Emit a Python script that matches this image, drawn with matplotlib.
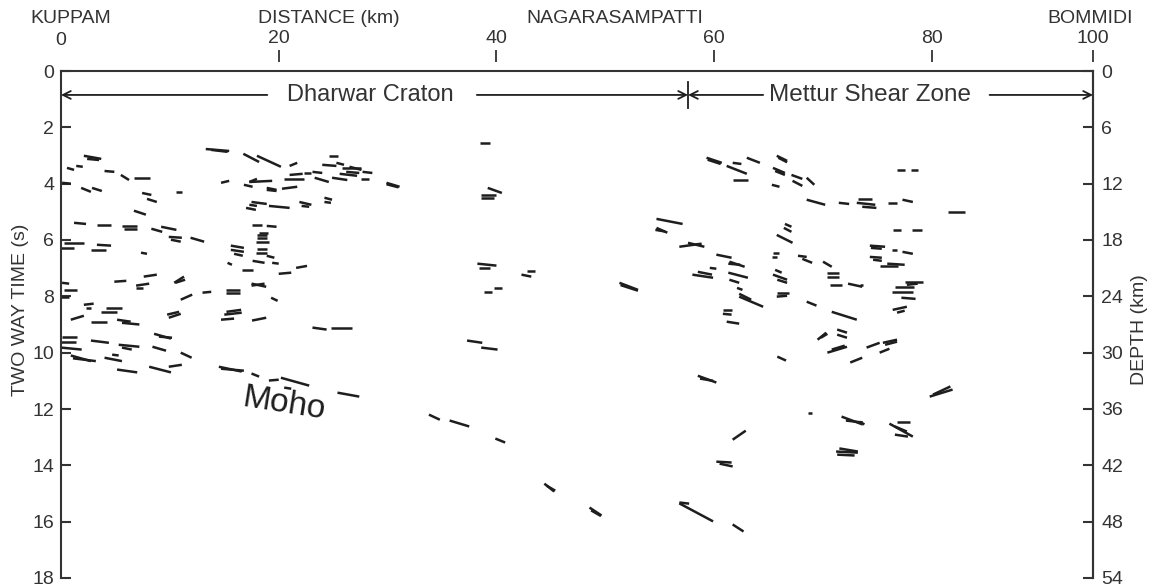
import matplotlib
matplotlib.use("Agg")
import matplotlib.pyplot as plt
import matplotlib.transforms as mtransforms
from matplotlib.collections import LineCollection

plt.rcParams['font.family'] = ['Liberation Sans', 'DejaVu Sans']

INK = '#333333'
LINE = '#1e1e1e'
FS = 14

# distance axis along the profile (km); the frame ends at the point printed "100"
x_end = 94.8
distance_ticks = [20, 40, 60, 80, x_end]
distance_labels = ["20", "40", "60", "80", "100"]

# two way time (s) on the left, depth (km) on the right
twt_ticks = [0, 2, 4, 6, 8, 10, 12, 14, 16, 18]
depth_ticks = [0, 6, 12, 18, 24, 30, 36, 42, 48, 54]

place_names = ["KUPPAM", "DISTANCE (km)", "NAGARASAMPATTI", "BOMMIDI"]
place_km = [0.9, 24.6, 50.9, 94.5]

# boundary between the two provinces (km)
boundary_km = 57.6

# reflector segments: (x0 km, t0 s, x1 km, t1 s)
craton_reflectors = [
    (0.55, 3.44, 1.2, 3.51), (1.4, 3.37, 2.0, 3.40), (2.1, 3.01, 3.7, 3.12),
    (2.4, 3.12, 3.5, 3.16), (4.0, 3.55, 4.9, 3.58), (5.5, 3.69, 6.25, 3.87),
    (6.7, 3.79, 8.2, 3.79), (0.1, 3.97, 0.9, 4.0), (1.85, 4.15, 2.75, 4.29),
    (2.85, 4.15, 3.75, 4.26), (10.6, 4.29, 11.1, 4.29), (7.45, 4.33, 8.3, 4.4),
    (7.9, 4.54, 8.8, 4.65), (6.7, 4.96, 7.8, 5.1), (13.3, 2.77, 15.45, 2.84),
    (13.8, 2.8, 15.3, 2.87), (16.75, 2.94, 18.2, 3.23), (18.0, 3.01, 20.2, 3.4),
    (21.0, 3.37, 21.7, 3.26), (14.7, 3.97, 15.45, 3.9), (16.8, 4.04, 17.6, 4.11),
    (17.3, 3.94, 19.4, 3.9), (17.3, 3.94, 18.0, 3.83), (18.9, 4.15, 19.8, 4.22),
    (18.9, 4.22, 19.8, 4.26), (20.3, 4.18, 21.7, 4.11), (20.5, 3.83, 22.3, 3.83),
    (21.0, 3.69, 22.2, 3.65), (17.5, 4.65, 18.9, 4.72), (17.0, 4.86, 17.9, 4.93),
    (17.3, 4.75, 18.0, 4.79), (19.1, 4.79, 21.0, 4.86), (21.9, 4.65, 23.0, 4.75),
    (22.1, 4.79, 22.8, 4.82), (24.2, 4.5, 24.9, 4.57), (24.2, 4.65, 24.8, 4.68),
    (22.3, 3.62, 23.0, 3.62), (23.1, 3.58, 24.0, 3.62), (23.3, 3.79, 24.6, 3.94),
    (24.0, 3.33, 25.3, 3.37), (24.6, 3.01, 25.4, 3.01), (25.3, 3.26, 26.0, 3.33),
    (25.8, 3.44, 27.6, 3.44), (26.2, 3.58, 27.4, 3.62), (25.6, 3.65, 27.2, 3.72),
    (24.9, 3.79, 26.3, 3.87), (27.7, 3.58, 28.6, 3.62), (27.6, 3.83, 28.3, 3.83),
    (29.9, 3.97, 31.1, 4.11), (29.9, 4.02, 31.0, 4.13), (26.5, 3.4, 27.6, 3.51),
    (1.2, 5.39, 2.3, 5.43), (3.3, 5.46, 4.6, 5.46), (5.6, 5.5, 7.0, 5.5),
    (5.8, 5.6, 7.0, 5.6), (8.3, 5.6, 9.3, 5.71), (9.2, 5.53, 10.6, 5.64),
    (9.9, 5.89, 11.1, 5.92), (10.1, 5.99, 11.0, 6.06), (11.9, 5.92, 13.15, 6.06),
    (0.3, 6.1, 2.1, 6.1), (0.0, 6.28, 1.2, 6.28), (2.75, 6.35, 4.1, 6.35),
    (3.3, 6.17, 4.6, 6.2), (7.35, 6.45, 7.9, 6.49), (15.6, 6.2, 16.8, 6.28),
    (15.6, 6.35, 16.8, 6.42), (15.9, 6.49, 16.7, 6.56), (17.9, 6.06, 19.1, 6.06),
    (18.0, 5.92, 18.9, 5.92), (18.0, 5.82, 18.9, 5.82), (17.9, 6.45, 18.9, 6.45),
    (18.0, 6.31, 18.9, 6.31), (17.5, 5.46, 18.5, 5.46), (18.9, 5.5, 19.8, 5.53),
    (18.2, 5.74, 19.0, 5.74), (15.3, 6.81, 15.7, 6.88), (16.6, 7.06, 17.6, 7.06),
    (17.6, 6.74, 18.7, 6.81), (18.9, 6.56, 19.6, 6.63), (19.4, 6.81, 20.0, 6.84),
    (20.0, 7.2, 21.15, 7.16), (21.6, 6.99, 22.6, 6.92), (4.9, 7.48, 6.0, 7.45),
    (6.9, 7.62, 8.1, 7.55), (6.9, 7.7, 7.5, 7.7), (7.6, 7.3, 8.8, 7.23),
    (10.4, 7.52, 11.3, 7.3), (10.5, 7.52, 11.4, 7.41), (0.1, 7.52, 0.75, 7.55),
    (0.3, 7.77, 1.5, 7.77), (0.0, 8.01, 0.75, 8.01), (11.0, 8.12, 12.05, 7.94),
    (13.0, 7.87, 13.8, 7.84), (15.2, 7.77, 16.4, 7.77), (15.2, 7.87, 16.4, 7.87),
    (17.5, 7.55, 18.85, 7.66), (17.5, 7.62, 18.7, 7.55), (19.3, 8.05, 19.9, 8.16),
    (2.1, 8.3, 3.0, 8.26), (2.3, 8.4, 2.75, 8.4), (3.7, 8.55, 5.15, 8.55),
    (4.1, 8.4, 5.6, 8.4), (0.9, 8.83, 2.1, 8.69), (2.75, 8.9, 4.2, 8.9),
    (5.15, 8.83, 6.4, 8.9), (5.6, 8.94, 7.2, 9.0), (9.75, 8.65, 10.85, 8.55),
    (9.9, 8.76, 11.0, 8.62), (14.7, 8.83, 15.9, 8.79), (15.0, 8.65, 16.6, 8.58),
    (15.2, 8.55, 16.55, 8.48), (17.55, 8.86, 18.85, 8.76), (0.1, 9.43, 1.5, 9.43),
    (0.0, 9.61, 1.4, 9.61), (2.75, 9.57, 4.4, 9.65), (5.3, 9.72, 7.2, 9.79),
    (5.6, 9.82, 6.5, 9.89), (8.55, 9.33, 10.1, 9.5), (9.0, 9.43, 10.2, 9.47),
    (8.4, 9.79, 9.65, 9.93), (11.0, 10.0, 12.0, 10.18), (0.0, 9.82, 1.9, 9.89),
    (0.9, 10.1, 2.75, 10.3), (1.1, 10.2, 3.2, 10.3), (4.0, 10.18, 5.6, 10.3),
    (4.7, 10.07, 5.3, 10.1), (5.15, 10.6, 7.0, 10.7), (8.1, 10.5, 10.1, 10.7),
    (9.9, 10.5, 11.1, 10.43), (14.5, 10.5, 16.6, 10.67), (14.7, 10.57, 16.8, 10.64),
    (17.5, 10.74, 18.2, 10.85), (19.1, 10.99, 20.0, 10.96), (20.2, 10.89, 22.8, 11.17),
    (20.5, 11.24, 21.15, 11.28), (25.4, 11.42, 27.4, 11.56), (23.1, 9.11, 24.4, 9.18),
    (24.8, 9.11, 26.7, 9.11),
]

central_reflectors = [
    (38.5, 2.55, 39.4, 2.55), (39.2, 4.15, 40.5, 4.33), (38.6, 4.4, 40.0, 4.4),
    (38.6, 4.5, 39.8, 4.5), (38.25, 6.84, 40.0, 6.91), (38.4, 6.99, 39.4, 6.99),
    (42.3, 7.23, 43.2, 7.3), (42.85, 7.09, 43.5, 7.09), (38.9, 7.84, 39.6, 7.84),
    (39.8, 7.7, 40.5, 7.7), (51.3, 7.52, 53.0, 7.77), (51.4, 7.6, 53.0, 7.8),
    (37.3, 9.57, 38.7, 9.65), (38.6, 9.82, 40.1, 9.89), (33.8, 12.2, 34.8, 12.38),
    (35.7, 12.41, 37.5, 12.62), (39.9, 13.05, 40.8, 13.19), (44.4, 14.65, 45.3, 14.93),
    (44.6, 14.72, 45.4, 14.9), (48.55, 15.5, 49.65, 15.78), (48.7, 15.6, 49.6, 15.8),
    (56.8, 15.35, 59.9, 15.99), (56.8, 15.32, 57.7, 15.36), (61.7, 16.1, 62.7, 16.35),
]

shear_zone_reflectors = [
    (59.3, 3.08, 60.7, 3.26), (59.4, 3.15, 60.6, 3.3), (61.7, 3.26, 62.5, 3.3),
    (61.15, 3.37, 63.0, 3.65), (63.0, 3.08, 64.2, 3.26), (65.75, 3.01, 66.7, 3.19),
    (65.9, 3.08, 66.7, 3.24), (61.7, 3.87, 63.1, 3.87), (65.4, 3.44, 66.5, 3.62),
    (65.6, 3.55, 66.5, 3.69), (65.3, 4.04, 66.0, 4.11), (67.1, 3.69, 68.1, 3.83),
    (67.2, 3.9, 68.1, 4.08), (68.5, 3.79, 69.2, 4.04), (68.5, 4.57, 70.2, 4.75),
    (71.45, 4.68, 72.4, 4.72), (73.2, 4.54, 74.5, 4.54), (73.1, 4.68, 74.8, 4.75),
    (73.6, 4.82, 74.9, 4.86), (76.0, 4.68, 76.8, 4.68), (76.8, 3.51, 77.5, 3.51),
    (78.1, 3.51, 78.7, 3.51), (77.3, 4.57, 78.25, 4.65), (81.5, 5.0, 83.0, 5.0),
    (54.7, 5.25, 57.1, 5.43), (54.7, 5.57, 55.7, 5.74), (54.6, 5.64, 55.5, 5.7),
    (56.8, 6.24, 58.85, 6.13), (57.6, 6.1, 59.1, 6.24), (60.2, 6.52, 61.6, 6.63),
    (61.4, 6.77, 62.8, 6.95), (61.3, 6.84, 62.4, 6.88), (59.6, 6.99, 60.2, 7.02),
    (58.0, 7.23, 59.9, 7.34), (58.5, 7.13, 59.8, 7.23), (61.3, 7.16, 63.1, 7.34),
    (61.4, 7.41, 62.3, 7.52), (62.1, 7.7, 62.6, 7.77), (62.3, 8.01, 64.5, 8.37),
    (62.3, 7.91, 63.4, 8.12), (60.8, 8.48, 61.6, 8.48), (60.8, 8.62, 61.6, 8.65),
    (61.15, 8.9, 62.3, 8.97), (66.5, 5.43, 67.1, 5.53), (66.4, 5.57, 67.1, 5.71),
    (65.75, 5.82, 67.2, 6.1), (65.4, 6.45, 66.0, 6.45), (65.3, 6.6, 65.75, 6.6),
    (67.7, 6.56, 68.5, 6.6), (68.1, 6.67, 69.0, 6.81), (70.0, 6.77, 70.8, 6.95),
    (65.6, 7.06, 66.2, 7.16), (65.4, 7.23, 66.7, 7.41), (65.8, 7.41, 66.7, 7.52),
    (65.8, 7.87, 66.9, 7.87), (65.75, 8.01, 66.7, 7.98), (70.4, 7.16, 71.5, 7.16),
    (70.4, 7.3, 71.5, 7.3), (70.6, 7.59, 71.7, 7.59), (72.3, 7.55, 73.6, 7.66),
    (68.5, 8.19, 69.4, 8.33), (70.8, 8.55, 73.1, 8.83), (74.3, 6.2, 75.7, 6.24),
    (74.4, 6.28, 75.4, 6.31), (76.3, 6.35, 76.8, 6.35), (77.3, 6.42, 78.25, 6.49),
    (74.3, 6.6, 75.4, 6.63), (74.6, 6.7, 75.4, 6.74), (75.2, 6.91, 76.9, 6.91),
    (75.9, 6.84, 77.5, 6.88), (76.4, 5.64, 77.2, 5.64), (78.2, 5.64, 79.1, 5.64),
    (77.5, 7.48, 79.2, 7.48), (77.7, 7.59, 78.7, 7.55), (76.6, 7.66, 78.4, 7.66),
    (76.3, 7.84, 78.25, 7.84), (77.2, 8.05, 78.5, 8.09), (76.4, 8.48, 77.7, 8.37),
    (76.8, 8.58, 77.5, 8.51), (73.4, 7.59, 73.7, 7.59), (69.5, 9.54, 70.3, 9.29),
    (69.8, 9.47, 70.4, 9.33), (71.3, 9.18, 72.2, 9.29), (71.3, 9.36, 72.2, 9.47),
    (70.4, 10.0, 72.2, 9.79), (70.8, 9.89, 72.0, 9.75), (72.5, 10.35, 73.6, 10.18),
    (74.0, 9.82, 75.2, 9.65), (75.7, 9.72, 76.8, 9.61), (75.2, 10.0, 76.1, 9.86),
    (75.5, 9.65, 76.8, 9.54), (65.8, 10.14, 66.6, 10.28), (58.5, 10.82, 60.2, 11.06),
    (58.7, 10.92, 59.9, 11.0), (68.6, 12.13, 69.0, 12.13), (71.7, 12.27, 73.65, 12.55),
    (72.1, 12.41, 73.65, 12.48), (79.8, 11.56, 81.9, 11.31), (80.1, 11.49, 81.7, 11.2),
    (76.1, 12.52, 78.25, 12.98), (76.6, 12.62, 77.7, 12.8), (76.8, 12.45, 78.0, 12.45),
    (76.6, 12.91, 77.8, 12.98), (61.7, 13.09, 62.9, 12.77), (60.2, 13.87, 61.6, 13.9),
    (60.5, 13.94, 61.7, 14.04), (71.2, 13.51, 73.2, 13.55), (71.3, 13.62, 72.9, 13.65),
    (71.5, 13.4, 73.2, 13.51), (73.4, 12.45, 73.8, 12.55),
]


def to_segments(rows):
    return [[(x0, t0), (x1, t1)] for x0, t0, x1, t1 in rows]


fig = plt.figure(figsize=(11.49, 5.87), dpi=100)
ax = fig.add_axes([61 / 1149, 9 / 587, 1032 / 1149, 507 / 587])

for rows in (craton_reflectors, central_reflectors, shear_zone_reflectors):
    ax.add_collection(LineCollection(to_segments(rows), colors=LINE,
                                     linewidths=1.8, capstyle='butt'))

ax.set_xlim(0, x_end)
ax.set_ylim(18, 0)
ax.set_xticks([])
ax.set_yticks(twt_ticks)
ax.tick_params(axis='y', direction='in', length=7, width=1.5, pad=5,
               labelsize=FS, colors=INK)
ax.spines['bottom'].set_visible(False)
for s in ('left', 'top', 'right'):
    ax.spines[s].set_linewidth(1.5)
    ax.spines[s].set_color(INK)

# depth axis on the right
axr = ax.twinx()
axr.set_ylim(54, 0)
axr.set_yticks(depth_ticks)
axr.tick_params(axis='y', direction='in', length=7, width=1.5, pad=6,
                labelsize=FS, colors=INK)
for s in ('left', 'top', 'bottom'):
    axr.spines[s].set_visible(False)
axr.spines['right'].set_linewidth(1.5)
axr.spines['right'].set_color(INK)

# distance ticks float a little above the frame
sec = ax.secondary_xaxis(1 + 9 / 507)
sec.set_xticks(distance_ticks, labels=distance_labels)
sec.set_xticks([0], labels=["0"], minor=True)
sec.spines['top'].set_visible(False)
sec.tick_params(which='major', direction='out', length=8.6, width=1.3, pad=2,
                labelsize=FS, colors=INK)
sec.tick_params(which='minor', length=0, pad=9.5, labelsize=FS, colors=INK)

top = mtransforms.blended_transform_factory(ax.transData, ax.transAxes)
for name, km in zip(place_names, place_km):
    ax.text(km, 1.1026, name, transform=top, ha='center', va='center',
            fontsize=FS, color=INK)

ax.text(-0.0397, 0.528, "TWO WAY TIME (s)", transform=ax.transAxes, rotation=90,
        ha='center', va='center', fontsize=FS, color=INK)
ax.text(1.0455, 0.49, "DEPTH (km)", transform=ax.transAxes, rotation=90,
        ha='center', va='center', fontsize=FS, color=INK)

# province arrows
arrow_t = 0.85
arrow_kw = dict(arrowstyle='->', color=LINE, lw=1.3, shrinkA=0, shrinkB=0,
                mutation_scale=14)
ax.annotate('', xy=(0, arrow_t), xytext=(18.95, arrow_t), arrowprops=arrow_kw,
            annotation_clip=False)
ax.annotate('', xy=(boundary_km, arrow_t), xytext=(38.2, arrow_t), arrowprops=arrow_kw)
ax.annotate('', xy=(boundary_km, arrow_t), xytext=(64.5, arrow_t), arrowprops=arrow_kw)
ax.annotate('', xy=(x_end, arrow_t), xytext=(85.3, arrow_t), arrowprops=arrow_kw,
            annotation_clip=False)
ax.plot([boundary_km, boundary_km], [0.4, 1.3], color=LINE, lw=1.3)
ax.text(28.4, arrow_t, "Dharwar Craton", ha='center', va='center', fontsize=17, color=INK)
ax.text(74.3, arrow_t, "Mettur Shear Zone", ha='center', va='center', fontsize=17.5, color=INK)

ax.text(20.5, 11.84, "Moho", rotation=-9, rotation_mode='anchor', ha='center',
        va='center', fontsize=24, color=LINE)

fig.savefig("out.png", dpi=100)
